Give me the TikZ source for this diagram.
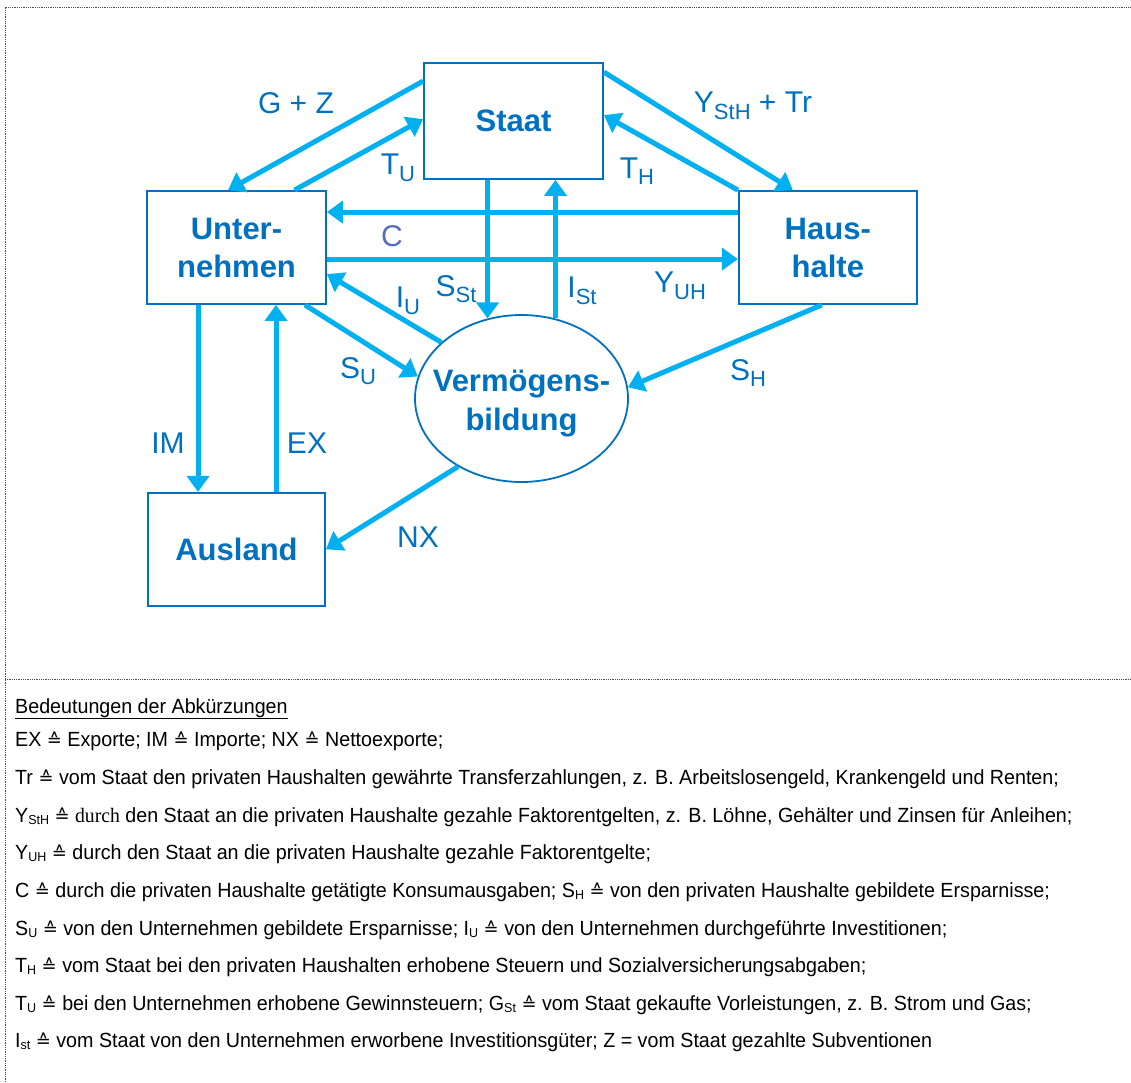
\documentclass[tikz,border=0pt]{standalone}
\usepackage{fontspec}
\setmainfont{Liberation Sans}
\newfontfamily\legendfont[FakeStretch=0.96]{Liberation Sans}
\newfontfamily\legendserif[FakeStretch=0.96]{Liberation Serif}
\newfontfamily\symbolfont{DejaVu Sans}
\usetikzlibrary{positioning,shapes.geometric,arrows.meta}
\definecolor{boxblue}{HTML}{0070C0}
\definecolor{flowblue}{HTML}{00B0F0}
\definecolor{cblue}{RGB}{84,110,190}
\newcommand{\tief}[1]{\raisebox{-0.22em}{\fontsize{22}{22}\selectfont #1}}
\newcommand{\ltief}[1]{\raisebox{-0.1em}{\fontsize{13}{13}\selectfont #1}}
\newcommand{\entspr}{{\symbolfont\fontsize{18}{18}\selectfont ≙}}

\begin{document}
\begin{tikzpicture}[x=1pt, y=-1pt, nodes = {align = center},
    sektor/.style = {draw=boxblue, line width=1.8pt, text=boxblue, inner sep=0pt,
                     font=\fontsize{31}{38}\selectfont\bfseries},
    flow/.style = {draw=flowblue, line width=5pt, -{Triangle[length=16pt,width=22pt]}},
    lbl/.style = {text=boxblue, inner sep=0pt, font=\fontsize{30}{30}\selectfont},
    defline/.style = {anchor=base west, inner sep=0pt, align=left,
                      font=\legendfont\fontsize{20.5}{20.5}\selectfont},
    frame/.style = {densely dotted, line width=0.8pt, black!70}]
    \useasboundingbox (0,0) rectangle (1131,1082);
    \draw[frame] (5,1082) -- (5,7) -- (1131,7);
    \draw[frame] (5,679) -- (1131,679);

    \node (staat) [sektor, minimum width=179pt, minimum height=116pt] at (513.5,121) {Staat};
    \node (unter) [sektor, minimum width=179pt, minimum height=113pt] at (236.5,247.5) {Unter-\\nehmen};
    \node (haus) [sektor, minimum width=178pt, minimum height=113pt, right = 411pt of unter] {Haus-\\halte};
    \node (ausl) [sektor, minimum width=177pt, minimum height=113pt, below = 187pt of unter] {Ausland};
    \node (verm) [sektor, ellipse, minimum width=213pt, minimum height=167pt,
                  label={[text=boxblue, align=center, yshift=-5pt, font=\fontsize{31}{39}\selectfont\bfseries]center:Verm\"ogens-\\bildung}]
                  at (521.5,398.5) {};

    \draw[flow] ([yshift=-19pt]staat.north west) -- ([xshift=-8.5pt]unter.north);
    \draw[flow] ([xshift=58pt]unter.north) -- ([yshift=-57pt]staat.north west);
    \draw[flow] ([yshift=-10pt]staat.north east) -- ([xshift=-35pt]haus.north);
    \draw[flow] (haus.north west) -- ([yshift=-53pt]staat.north east);
    \draw[flow] ([yshift=-22pt]haus.north west) -- ([yshift=-22pt]unter.north east);
    \draw[flow] ([yshift=-69pt]unter.north east) -- ([yshift=-69pt]haus.north west);
    \draw[flow] (staat.south -| verm.113) -- (verm.113);
    \draw[flow] (verm.67) -- (staat.south -| verm.67);
    \draw[flow] (verm.145) -- ([yshift=-84pt]unter.north east);
    \draw[flow] ([xshift=-22pt]unter.south east) -- (verm.168);
    \draw[flow] ([xshift=-6pt]haus.south) -- (verm.6);
    \draw[flow] ([xshift=-38.5pt]unter.south) -- ([xshift=-38.5pt]unter.south |- ausl.north);
    \draw[flow] ([xshift=39.5pt]ausl.north) -- ([xshift=39.5pt]ausl.north |- unter.south);
    \draw[flow] (verm.227) -- (ausl.east);

    \node (gz) [lbl] at (296,103) {G + Z};
    \node (tu) [lbl] at (398,168) {T\tief{U}};
    \node (ysth) [lbl] at (753,106) {Y\tief{StH} + Tr};
    \node (th) [lbl] at (637,171) {T\tief{H}};
    \node (c) [lbl, text=cblue] at (392,236) {C};
    \node (yuh) [lbl] at (680,286) {Y\tief{UH}};
    \node (sst) [lbl] at (456,289) {S\tief{St}};
    \node (ist) [lbl] at (582,291) {I\tief{St}};
    \node (iu) [lbl] at (408,301) {I\tief{U}};
    \node (su) [lbl] at (358,371) {S\tief{U}};
    \node (sh) [lbl] at (748,373) {S\tief{H}};
    \node (im) [lbl] at (168,443) {IM};
    \node (ex) [lbl] at (307,443) {EX};
    \node (nx) [lbl] at (418,537) {NX};

    % Legende
    \node (def0) [defline] at (15,713) {\underline{Bedeutungen der Abk\"urzungen}};
    \node (def1) [defline] at (15,746) {EX \entspr{} Exporte; IM \entspr{} Importe; NX \entspr{} Nettoexporte;};
    \node (def2) [defline] at (15,784) {Tr \entspr{} vom Staat den privaten Haushalten gew\"ahrte Transferzahlungen, z. B. Arbeitslosengeld, Krankengeld und Renten;};
    \node (def3) [defline] at (15,822) {Y\ltief{StH} \entspr{} {\legendserif durch} den Staat an die privaten Haushalte gezahle Faktorentgelten, z. B. L\"ohne, Geh\"alter und Zinsen f\"ur Anleihen;};
    \node (def4) [defline] at (15,859) {Y\ltief{UH} \entspr{} durch den Staat an die privaten Haushalte gezahle Faktorentgelte;};
    \node (def5) [defline] at (15,897) {C \entspr{} durch die privaten Haushalte get\"atigte Konsumausgaben; S\ltief{H} \entspr{} von den privaten Haushalte gebildete Ersparnisse;};
    \node (def6) [defline] at (15,935) {S\ltief{U} \entspr{} von den Unternehmen gebildete Ersparnisse; I\ltief{U} \entspr{} von den Unternehmen durchgef\"uhrte Investitionen;};
    \node (def7) [defline] at (15,972) {T\ltief{H} \entspr{} vom Staat bei den privaten Haushalten erhobene Steuern und Sozialversicherungsabgaben;};
    \node (def8) [defline] at (15,1010) {T\ltief{U} \entspr{} bei den Unternehmen erhobene Gewinnsteuern; G\ltief{St} \entspr{} vom Staat gekaufte Vorleistungen, z. B. Strom und Gas;};
    \node (def9) [defline] at (15,1047) {I\ltief{st} \entspr{} vom Staat von den Unternehmen erworbene Investitionsg\"uter; Z = vom Staat gezahlte Subventionen};
\end{tikzpicture}
\end{document}
